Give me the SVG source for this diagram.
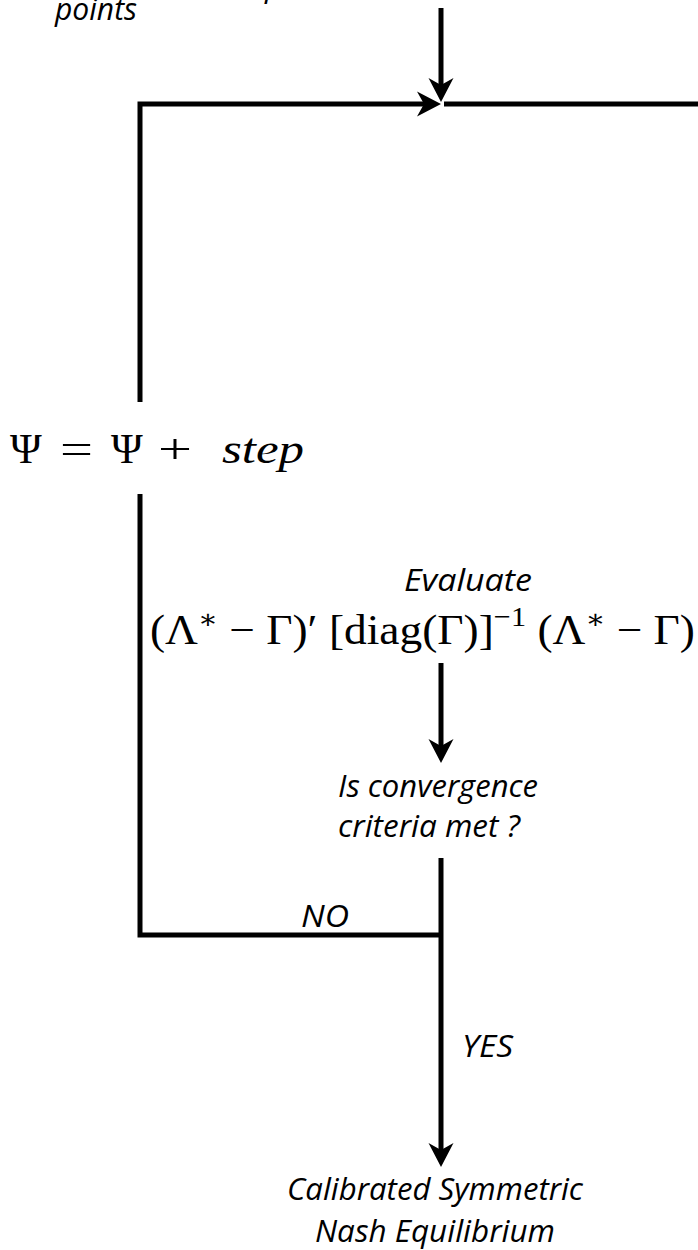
<svg xmlns="http://www.w3.org/2000/svg" width="698" height="1250" viewBox="0 0 698 1250">
  <style>
    .lbl { font-family: "Open Sans", "Lato", sans-serif; font-style: italic; font-size: 31px; fill: #000; }
    .math { font-family: "Liberation Serif", "DejaVu Serif", serif; fill: #000; }
    .conn { fill: none; stroke: #000; stroke-width: 5; stroke-linejoin: miter; stroke-linecap: butt; }
  </style>
  <defs>
    <marker id="ah" viewBox="-26 -14 28 28" markerWidth="28" markerHeight="28" refX="-15" refY="0" orient="auto" markerUnits="userSpaceOnUse">
      <path d="M0,0 L-24,-12.5 L-17,0 L-24,12.5 Z" fill="#000"/>
    </marker>
  </defs>
  <rect x="0" y="0" width="698" height="1250" fill="#fff"/>

  <g id="connectors">
    <path class="conn" d="M441,8 L441,87" marker-end="url(#ah)"/>
    <path class="conn" d="M140,402 L140,104 L426,104" marker-end="url(#ah)"/>
    <path class="conn" d="M444,104 L698,104"/>
    <path class="conn" d="M441,935 L140,935 L140,494"/>
    <path class="conn" d="M441,663 L441,748" marker-end="url(#ah)"/>
    <path class="conn" d="M441,858 L441,1152" marker-end="url(#ah)"/>
  </g>

  <g id="node-start">
    <text class="lbl" x="55" y="20" textLength="82" lengthAdjust="spacingAndGlyphs">points</text>
    <text class="lbl" x="265" y="-3">p</text>
  </g>

  <g id="node-update">
    <text class="math" font-size="43" y="463"><tspan x="10">Ψ</tspan><tspan x="60" textLength="33" lengthAdjust="spacingAndGlyphs">=</tspan><tspan x="111">Ψ</tspan><tspan x="158" textLength="34" lengthAdjust="spacingAndGlyphs">+</tspan><tspan x="222" font-style="italic" textLength="82" lengthAdjust="spacingAndGlyphs">step</tspan></text>
  </g>

  <g id="node-evaluate">
    <text class="lbl" x="468" y="591" text-anchor="middle" textLength="128" lengthAdjust="spacingAndGlyphs">Evaluate</text>
    <text class="math" font-size="42" x="150" y="644" textLength="545" lengthAdjust="spacingAndGlyphs">(Λ<tspan dy="-16" font-size="27">∗</tspan><tspan dy="16"> − Γ)′ [diag(Γ)]</tspan><tspan dy="-18" font-size="28">−1</tspan><tspan dy="18"> (Λ</tspan><tspan dy="-16" font-size="27">∗</tspan><tspan dy="16"> − Γ)</tspan></text>
  </g>

  <g id="node-decision">
    <text class="lbl" x="338" y="797" textLength="200" lengthAdjust="spacingAndGlyphs">Is convergence</text>
    <text class="lbl" x="338" y="837" textLength="182" lengthAdjust="spacingAndGlyphs">criteria met ?</text>
  </g>

  <g id="label-no">
    <text class="lbl" x="301" y="927" textLength="48" lengthAdjust="spacingAndGlyphs">NO</text>
  </g>
  <g id="label-yes">
    <text class="lbl" x="462" y="1057" textLength="51" lengthAdjust="spacingAndGlyphs">YES</text>
  </g>

  <g id="node-end">
    <text class="lbl" x="435" y="1200" text-anchor="middle" textLength="296" lengthAdjust="spacingAndGlyphs">Calibrated Symmetric</text>
    <text class="lbl" x="435" y="1242" text-anchor="middle" textLength="240" lengthAdjust="spacingAndGlyphs">Nash Equilibrium</text>
  </g>
</svg>
